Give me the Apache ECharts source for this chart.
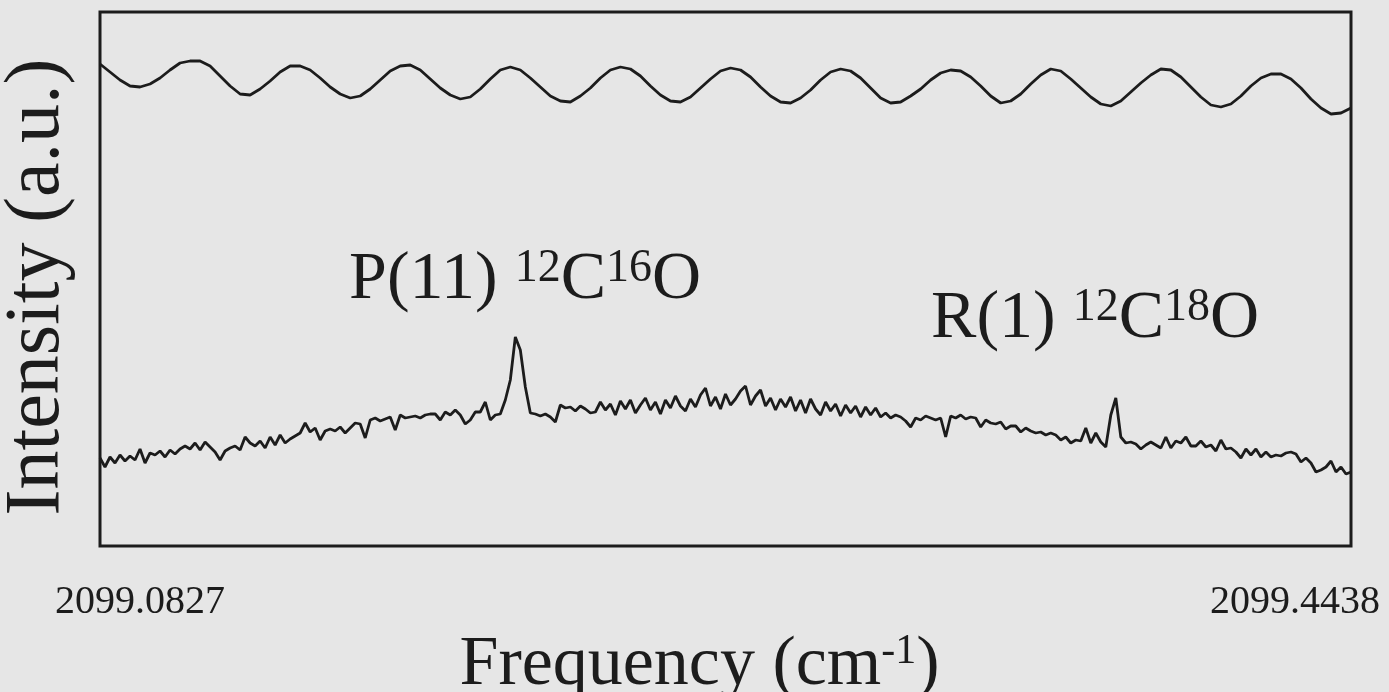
<!DOCTYPE html>
<html>
<head>
<meta charset="utf-8">
<script src="https://cdn.jsdelivr.net/npm/echarts@6/dist/echarts.min.js"></script>
<style>
html, body { margin: 0; padding: 0; background: #e6e6e6; }
#chart-div { width: 1389px; height: 692px; }
</style>
</head>
<body>
<div id="chart-div"></div>
<script>
// scan range (cm-1)
var g_freq_start = 2099.0827;
var g_freq_end = 2099.4438;
var g_tick_labels = ["2099.0827", "2099.4438"];

// etalon fringes, evenly sampled over the scan
var g_etalon_y = [
	482, 474, 466, 460, 459, 462, 468, 476, 483, 485,
	485, 480, 470, 460, 452, 451, 457, 465, 474, 480,
	480, 476, 468, 459, 452, 448, 450, 457, 466, 475,
	480, 481, 476, 467, 458, 451, 447, 449, 457, 467,
	476, 479, 476, 468, 459, 450, 445, 444, 450, 458,
	468, 476, 479, 477, 470, 460, 451, 445, 444, 449,
	458, 467, 475, 478, 476, 469, 459, 450, 444, 443,
	448, 456, 466, 474, 477, 475, 468, 458, 448, 443,
	444, 450, 457, 466, 473, 476, 475, 469, 460, 450,
	443, 445, 452, 462, 471, 477, 475, 467, 458, 449,
	442, 440, 445, 454, 463, 471, 477, 476, 469, 459,
	449, 441, 439, 442, 450, 460, 468, 472, 472, 467,
	458, 447, 438, 432, 433, 438
];

// absorption spectrum, evenly sampled over the scan
var g_spectrum_y = [
	88, 79, 89, 83, 91, 85, 90, 86, 97, 83,
	93, 91, 95, 89, 96, 92, 97, 100, 97, 103,
	96, 104, 99, 94, 86, 95, 98, 100, 96, 109,
	103, 100, 105, 98, 109, 101, 111, 103, 107, 110,
	113, 123, 114, 118, 106, 115, 117, 115, 119, 113,
	118, 123, 122, 108, 126, 128, 125, 127, 129, 116,
	131, 128, 129, 130, 128, 131, 132, 132, 126, 134,
	131, 136, 131, 122, 126, 134, 134, 144, 126, 131,
	132, 146, 166, 209, 196, 159, 133, 132, 130, 132,
	129, 124, 141, 138, 139, 135, 140, 137, 133,
	134, 144, 136, 142, 131, 145, 137, 146, 133, 141,
	148, 136, 144, 132, 146, 138, 150, 140, 135, 147,
	139, 151, 158, 140, 149, 137, 152, 141, 147, 155,
	160, 141, 150, 156, 140, 148, 136, 147, 139, 149,
	135, 146, 133, 147, 137, 131, 144, 135, 142, 130,
	141, 133, 140, 129, 139, 131, 138,
	129, 133, 128, 131, 129, 125, 119, 128, 126, 130,
	128, 126, 128, 109, 130, 128, 131, 127, 129, 128,
	119, 126, 123, 122, 124, 117, 120, 120, 114, 118,
	115, 113, 114, 111, 113, 111, 106, 109, 103, 106,
	105, 118, 103, 113, 104, 99, 131, 148, 109, 103,
	104, 102, 97, 101, 104, 101, 98, 109, 98, 105,
	103, 109, 100, 100, 105, 99, 101, 95, 106, 97,
	98, 94, 88, 97, 91, 97, 89, 94, 89, 91,
	90, 93, 94, 92, 84, 88, 83, 74, 76, 79,
	85, 74, 79, 72, 74
];

// line assignments and where their labels sit
var g_line_names = ["P(11) {s|12}C{s|16}O", "R(1) {s|12}C{s|18}O"];
var g_line_freq = [2099.1546, 2099.3226];
var g_line_y = [266, 227];

var g_font = "'Liberation Serif', 'Times New Roman', serif";
var g_ink = "#1c1c1c";

// 把等间隔采样转换为 [频率, 强度] 点
function to_points(values) {
	var step = (g_freq_end - g_freq_start) / (values.length - 1);
	return values.map((v, i) => [g_freq_start + i * step, v]);
}

var g_chart = echarts.init(document.getElementById("chart-div"));

g_chart.setOption({
	animation: false,
	backgroundColor: "#e6e6e6",
	grid: {
		left: 100,
		right: 38,
		top: 12,
		bottom: 146,
		containLabel: false,
		outerBoundsMode: "none",
		show: true,
		borderColor: g_ink,
		borderWidth: 3
	},
	xAxis: {
		type: "value",
		min: g_freq_start,
		max: g_freq_end,
		axisLine: { show: false },
		axisTick: { show: false },
		splitLine: { show: false },
		axisLabel: {
			customValues: [g_freq_start, g_freq_end],
			margin: 36,
			color: g_ink,
			fontFamily: g_font,
			fontSize: 40,
			formatter: v => Math.abs(v - g_freq_start) < 1e-6
				? "{a|" + g_tick_labels[0] + "}"
				: "{b|" + g_tick_labels[1] + "}",
			rich: {
				a: { fontFamily: g_font, fontSize: 40, lineHeight: 40,
				     color: g_ink, padding: [0, 0, 0, 80] },
				b: { fontFamily: g_font, fontSize: 40, lineHeight: 40,
				     color: g_ink, padding: [0, 112, 0, 0] }
			}
		},
		name: "Frequency (cm{s|-1})",
		nameLocation: "middle",
		nameGap: 85,
		nameTextStyle: {
			fontFamily: g_font,
			fontSize: 70,
			lineHeight: 70,
			color: g_ink,
			padding: [0, 52, 0, 0],
			rich: {
				s: { fontFamily: g_font, fontSize: 42, lineHeight: 48,
				     verticalAlign: "top", color: g_ink }
			}
		}
	},
	yAxis: {
		type: "value",
		min: 0,
		max: 534,
		axisLine: { show: false },
		axisTick: { show: false },
		axisLabel: { show: false },
		splitLine: { show: false },
		name: "Intensity (a.u.)",
		nameLocation: "middle",
		nameGap: 23,
		nameTextStyle: {
			fontFamily: g_font,
			fontSize: 78,
			lineHeight: 78,
			color: g_ink,
			padding: [0, 16, 0, 0]
		}
	},
	series: [
		{
			name: "etalon",
			type: "line",
			data: to_points(g_etalon_y),
			symbol: "none",
			lineStyle: { color: g_ink, width: 2.8 }
		},
		{
			name: "spectrum",
			type: "line",
			data: to_points(g_spectrum_y),
			symbol: "none",
			lineStyle: { color: g_ink, width: 2.8 },
			markPoint: {
				silent: true,
				symbol: "circle",
				symbolSize: 0,
				data: g_line_names.map((n, i) => ({
					name: n,
					coord: [g_line_freq[i], g_line_y[i]]
				})),
				label: {
					show: true,
					position: "right",
					distance: 0,
					formatter: p => p.name,
					fontFamily: g_font,
					fontSize: 68,
					lineHeight: 68,
					color: g_ink,
					rich: {
						s: { fontFamily: g_font, fontSize: 46, lineHeight: 45,
						     verticalAlign: "top", color: g_ink }
					}
				}
			}
		}
	]
});

window.addEventListener("resize", g_chart.resize);
</script>
</body>
</html>
